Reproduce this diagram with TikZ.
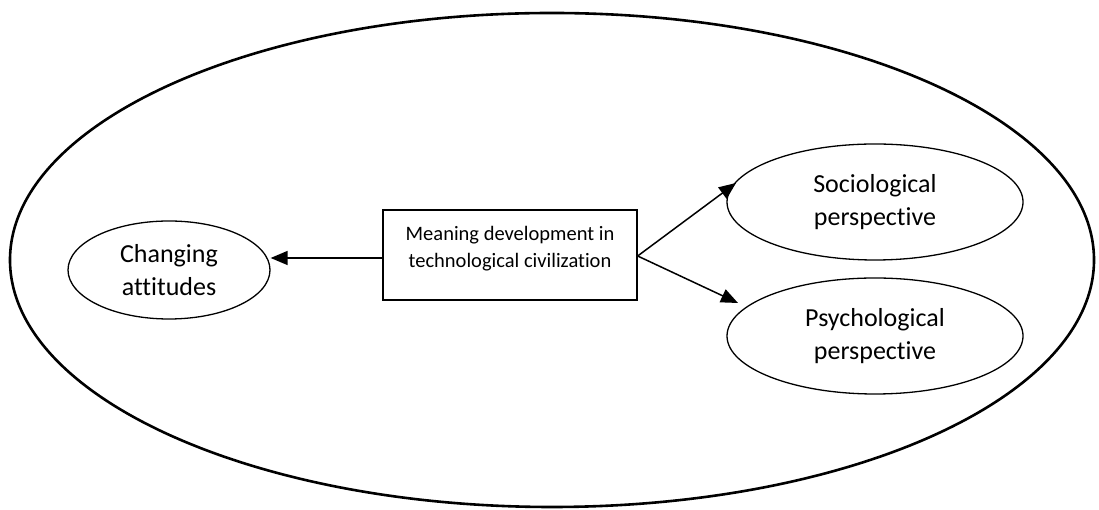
\documentclass[tikz,border=0pt]{standalone}
\usepackage{fontspec}
\setmainfont{Carlito}[Ligatures=NoCommon]
\usetikzlibrary{arrows.meta,shapes.geometric}
\begin{document}
\begin{tikzpicture}[x=1pt,y=1pt,
  oval/.style={draw,ellipse,line width=1.3pt,inner sep=0pt,font=\fontsize{26}{33}\selectfont,align=center},
  conn/.style={line width=1.5pt,-{Triangle[length=17pt,width=14pt]}}]
\useasboundingbox (0,0) rectangle (1099,510);
\node[draw,ellipse,line width=2.6pt,minimum width=1084pt,minimum height=494pt,inner sep=0pt] (outer) at (552,250) {};
\node[oval,minimum width=202pt,minimum height=98pt] (ca) at (169,240) {Changing\\attitudes};
\node[oval,minimum width=296pt,minimum height=116pt] (soc) at (875,308) {Sociological\\perspective};
\node[oval,minimum width=296pt,minimum height=116pt] (psy) at (875,174) {Psychological\\perspective};
\node[draw,line width=1.3pt,minimum width=254pt,minimum height=90pt,inner sep=0pt] (box) at (510,255) {};
\node[anchor=north,align=center,font=\fontsize{20.5}{27}\selectfont,inner sep=0pt] (bt) at ([yshift=-17pt]box.north) {Meaning development in\\technological civilization};
\coordinate (bo) at (box.east |- 0,254);
\coordinate (st) at (736,327);
\coordinate (pt) at (738,207);
\draw[conn] (box.west |- 0,252) -- (ca.east |- 0,252);
\draw[conn] (bo) -- (st);
\draw[conn] (bo) -- (pt);
\end{tikzpicture}
\end{document}
